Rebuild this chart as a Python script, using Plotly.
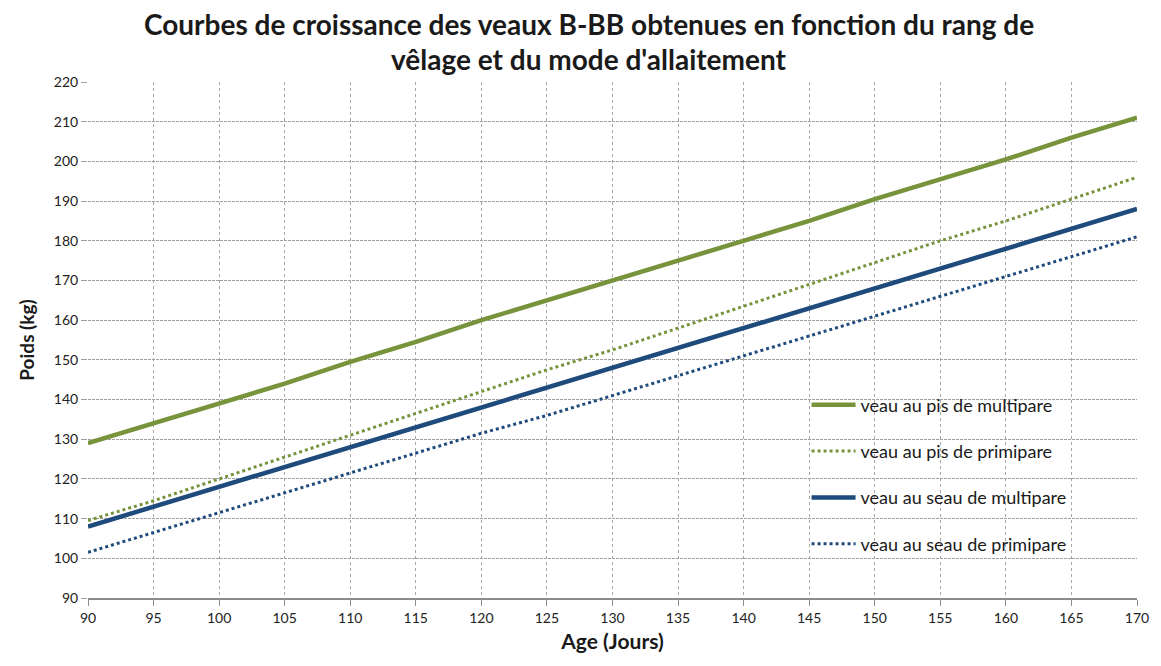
import plotly.graph_objects as go

# Age des veaux (jours)
age = [90, 95, 100, 105, 110, 115, 120, 125, 130, 135, 140, 145, 150, 155, 160, 165, 170]

# Poids (kg) selon le mode d'allaitement et le rang de vêlage
pis_multipare = [129, 134, 139, 144, 149.5, 154.5, 160, 165, 170, 175, 180, 185, 190.5, 195.5, 200.5, 206, 211]
pis_primipare = [109.5, 114.5, 120, 125.5, 131, 136.5, 142, 147.5, 152.5, 158, 163.5, 169, 174.5, 180, 185, 190.5, 196]
seau_multipare = [108, 113, 118, 123, 128, 133, 138, 143, 148, 153, 158, 163, 168, 173, 178, 183, 188]
seau_primipare = [101.5, 106.5, 111.5, 116.5, 121.5, 126.5, 131.5, 136, 141, 146, 151, 156, 161, 166, 171, 176, 181]

x_ticks = list(range(90, 171, 5))
y_ticks = list(range(90, 221, 10))

title_lines = [
    "Courbes de croissance des veaux B-BB obtenues en fonction du rang de",
    "vêlage et du mode d'allaitement",
]

GREEN = "#77933C"
BLUE = "#1F4A7C"
FONT = "Lato"

W, H = 1161, 666
M_L, M_R, M_T, M_B = 88, 20, 82, 68
PLOT_W = W - M_L - M_R
PLOT_H = H - M_T - M_B

series = [
    ("veau au pis de multipare", pis_multipare, GREEN, "solid", 4.5),
    ("veau au pis de primipare", pis_primipare, GREEN, "dot", 3),
    ("veau au seau de multipare", seau_multipare, BLUE, "solid", 4.5),
    ("veau au seau de primipare", seau_primipare, BLUE, "dot", 3),
]

fig = go.Figure()
for i, (name, vals, color, dash, w) in enumerate(series):
    fig.add_trace(go.Scatter(
        x=age, y=vals, name=name, mode="lines",
        line=dict(color=color, dash=dash, width=w),
        legendgroup=f"g{i}",
    ))

# Two-line title placed as annotations above the plot area
title_cx = 591
for k, line in enumerate(title_lines):
    ypix = 24 + 35 * k
    fig.add_annotation(
        text=f"<b>{line}</b>", xref="paper", yref="paper",
        x=(title_cx - M_L) / PLOT_W, xanchor="center",
        y=(H - M_B - ypix) / PLOT_H, yanchor="middle",
        showarrow=False, font=dict(family=FONT, size=28, color="#1a1a1a"),
    )

fig.update_layout(
    width=W, height=H,
    margin=dict(l=M_L, r=M_R, t=M_T, b=M_B),
    paper_bgcolor="white", plot_bgcolor="white",
    font=dict(family=FONT, color="#222222", size=14),
    legend=dict(
        x=0.685, y=0.41, xanchor="left", yanchor="top",
        bgcolor="rgba(0,0,0,0)",
        font=dict(family=FONT, size=18, color="#1a1a1a"),
        tracegroupgap=20,
        itemwidth=44,
    ),
    showlegend=True,
)

fig.update_xaxes(
    range=[90, 170], tickvals=x_ticks,
    showgrid=True, gridcolor="#A6A6A6", griddash="dot", gridwidth=1,
    showline=True, linecolor="#8C8C8C", linewidth=1.5,
    ticks="outside", ticklen=6, tickcolor="#8C8C8C",
    tickfont=dict(family=FONT, size=14, color="#222222"),
    title=dict(text="<b>Age (Jours)</b>", font=dict(family=FONT, size=21, color="#1a1a1a"), standoff=10),
    zeroline=False,
)
fig.update_yaxes(
    range=[90, 220], tickvals=y_ticks,
    showgrid=True, gridcolor="#A0A0A0", griddash="3px,1px", gridwidth=1.2,
    showline=False,
    ticks="outside", ticklen=6, tickcolor="#A0A0A0",
    tickfont=dict(family=FONT, size=14, color="#222222"),
    title=dict(text="<b>Poids (kg)</b>", font=dict(family=FONT, size=19, color="#1a1a1a"), standoff=14),
    zeroline=False,
)

fig.write_html("out.html")
